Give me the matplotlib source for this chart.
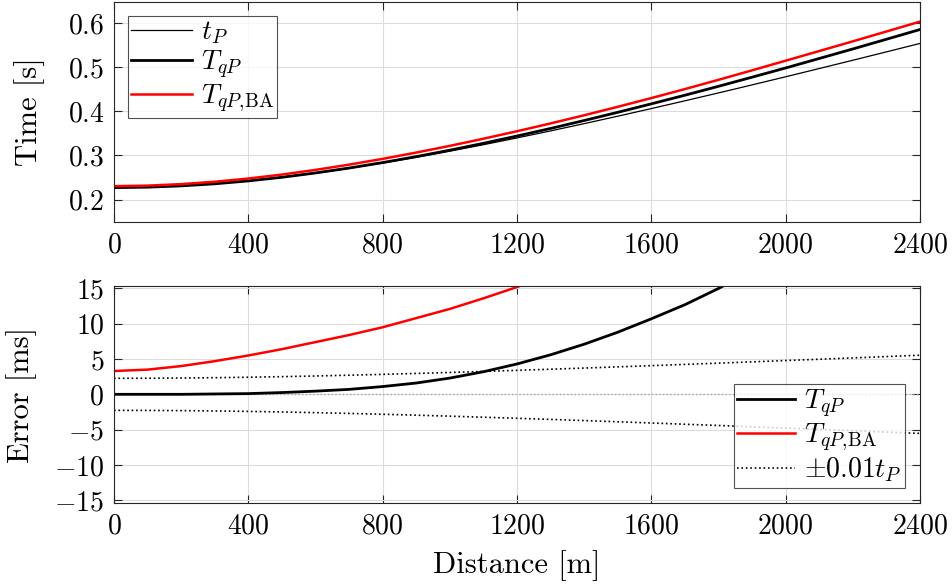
import matplotlib
matplotlib.use('Agg')
import matplotlib.pyplot as plt
import numpy as np

plt.rcParams['font.family'] = 'serif'
plt.rcParams['font.serif'] = ['cmr10']
plt.rcParams['mathtext.fontset'] = 'cm'
plt.rcParams['axes.formatter.use_mathtext'] = True
plt.rcParams['axes.unicode_minus'] = True

# offset [m]
dist = np.arange(0, 2401, 100)

# straight-ray time t_P [s]
t_p = [0.2270, 0.2280, 0.2309, 0.2356, 0.2421, 0.2502, 0.2598, 0.2707, 0.2827,
       0.2957, 0.3096, 0.3243, 0.3397, 0.3556, 0.3721, 0.3890, 0.4063, 0.4239,
       0.4418, 0.4600, 0.4784, 0.4971, 0.5159, 0.5349, 0.5540]

# T_qP [s]
t_qp = [0.22700, 0.22800, 0.23090, 0.23565, 0.24220, 0.25045, 0.26025, 0.27140,
        0.28380, 0.29730, 0.31190, 0.32750, 0.34400, 0.36120, 0.37920, 0.39780,
        0.41700, 0.43660, 0.45680, 0.47750, 0.49840, 0.51990, 0.54150, 0.56350,
        0.58560]

# T_qP,BA [s]
t_qp_ba = [0.2303, 0.2315, 0.2349, 0.2403, 0.2476, 0.2566, 0.2672, 0.2791, 0.2922,
           0.3065, 0.3217, 0.3379, 0.3549, 0.3726, 0.3911, 0.4103, 0.4301, 0.4505,
           0.4715, 0.4930, 0.5149, 0.5368, 0.5588, 0.5811, 0.6035]

t_p = np.array(t_p)
err_qp = (np.array(t_qp) - t_p) * 1000
err_ba = (np.array(t_qp_ba) - t_p) * 1000
tol = 0.01 * t_p * 1000

fig = plt.figure(figsize=(9.53, 5.87), dpi=100)
ax1 = fig.add_axes([0.1196, 0.6218, 0.8458, 0.3748])
ax2 = fig.add_axes([0.1196, 0.1431, 0.8458, 0.3697])

axcol = '#262626'
for ax in (ax1, ax2):
    ax.grid(True, color='#dcdcdc', lw=0.8)
    ax.set_axisbelow(True)
    ax.tick_params(direction='in', length=6, width=0.8, colors=axcol,
                   labelcolor='black', labelsize=20, top=True, right=True, pad=7)
    for s in ax.spines.values():
        s.set_color(axcol)
        s.set_linewidth(0.8)
    ax.set_xlim(0, 2400)
    ax.set_xticks(np.arange(0, 2401, 400))

lab_ba = r'$T_{qP,\!\mathrm{BA}}$'

ax1.plot(dist, t_p, 'k-', lw=0.9, label=r'$t_P$')
ax1.plot(dist, t_qp, 'k-', lw=2.0, label=r'$T_{qP}$')
ax1.plot(dist, t_qp_ba, '-', color='red', lw=1.8, label=lab_ba)
ax1.set_ylim(0.149, 0.648)
ax1.set_yticks([0.2, 0.3, 0.4, 0.5, 0.6])
ax1.set_ylabel('Time [s]', fontsize=22, labelpad=16)
leg1 = ax1.legend(loc='upper left', fontsize=20, frameon=True, fancybox=False,
                  edgecolor=axcol, handlelength=2.2, handletextpad=0.3,
                  borderpad=0.12, labelspacing=0.08, borderaxespad=0.5)
leg1.get_frame().set_linewidth(0.8)

ax2.axhline(0, color='0.65', ls=':', lw=1.0)
ax2.plot(dist, err_qp, 'k-', lw=2.0, label=r'$T_{qP}$')
ax2.plot(dist, err_ba, '-', color='red', lw=1.8, label=lab_ba)
ax2.plot(dist, tol, 'k:', lw=1.2, label=r'$\pm 0.01 t_P$')
ax2.plot(dist, -tol, 'k:', lw=1.2)
ax2.set_ylim(-15.4, 15.35)
ax2.set_yticks(np.arange(-15, 16, 5))
ax2.set_ylabel('Error [ms]', fontsize=22, labelpad=12)
ax2.set_xlabel('Distance [m]', fontsize=22, labelpad=8)
leg2 = ax2.legend(loc='lower right', fontsize=20, frameon=True, fancybox=False,
                  edgecolor=axcol, handlelength=2.1, handletextpad=0.3,
                  borderpad=0.12, labelspacing=0.08, borderaxespad=0.55)
leg2.get_frame().set_linewidth(0.8)

fig.align_ylabels([ax1, ax2])
fig.savefig('out.png', dpi=100)
